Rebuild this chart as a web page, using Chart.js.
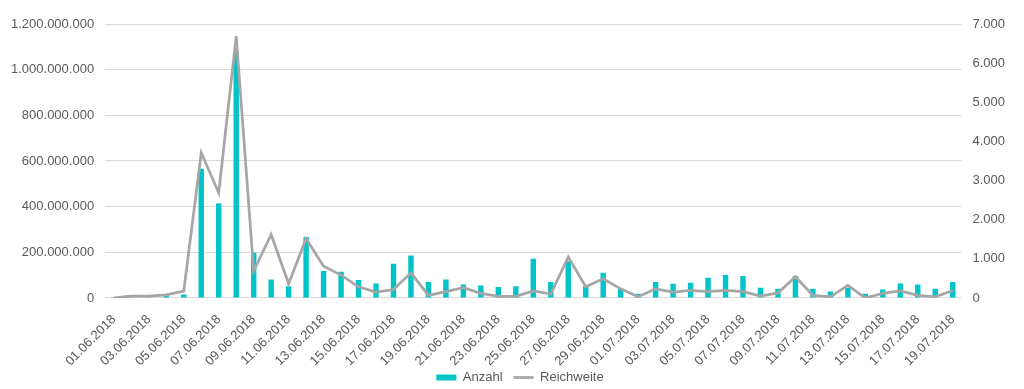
<!DOCTYPE html>
<html>
<head>
<meta charset="utf-8">
<script src="https://cdn.jsdelivr.net/npm/chart.js@4/dist/chart.umd.min.js"></script>
<style>
  html, body { margin: 0; padding: 0; background: #fff; }
  #wrap { width: 1024px; height: 389px; }
</style>
</head>
<body>
<div id="wrap"><canvas id="chart"></canvas></div>
<script>
    var labels = [
        "01.06.2018", "02.06.2018", "03.06.2018", "04.06.2018", "05.06.2018", "06.06.2018", "07.06.2018",
        "08.06.2018", "09.06.2018", "10.06.2018", "11.06.2018", "12.06.2018", "13.06.2018", "14.06.2018",
        "15.06.2018", "16.06.2018", "17.06.2018", "18.06.2018", "19.06.2018", "20.06.2018", "21.06.2018",
        "22.06.2018", "23.06.2018", "24.06.2018", "25.06.2018", "26.06.2018", "27.06.2018", "28.06.2018",
        "29.06.2018", "30.06.2018", "01.07.2018", "02.07.2018", "03.07.2018", "04.07.2018", "05.07.2018",
        "06.07.2018", "07.07.2018", "08.07.2018", "09.07.2018", "10.07.2018", "11.07.2018", "12.07.2018",
        "13.07.2018", "14.07.2018", "15.07.2018", "16.07.2018", "17.07.2018", "18.07.2018", "19.07.2018"
    ];

    // Anzahl (right axis)
    var anzahl = [
        20, 5, 8, 64, 90, 3300, 2415,
        6280, 1160, 473, 302, 1560, 690, 669,
        456, 371, 873, 1086, 405, 473, 345,
        320, 277, 302, 1001, 405, 941, 302,
        643, 234, 107, 405, 362, 388, 515,
        584, 558, 260, 234, 558, 234, 166,
        260, 107, 217, 371, 345, 234, 405
    ];

    // Reichweite (left axis)
    var reichweite = [
        0, 8000000, 8000000, 14000000, 30000000, 636000000, 461000000,
        1147000000, 118000000, 278000000, 62000000, 260000000, 139000000, 100000000,
        49000000, 26000000, 37000000, 110000000, 11000000, 28000000, 45000000,
        20000000, 7000000, 7000000, 31000000, 17000000, 180000000, 49000000,
        84000000, 40000000, 5000000, 40000000, 26000000, 33000000, 28000000,
        33000000, 28000000, 8000000, 22000000, 93000000, 11000000, 5000000,
        55000000, 0, 20000000, 31000000, 11000000, 5000000, 33000000
    ];

    var textColor = "#595959";
    var font = { family: "'Liberation Sans', Arial, sans-serif", size: 13 };

    function dots(v) {
        return String(v).replace(/\B(?=(\d{3})+(?!\d))/g, ".");
    }

    // move the legend to where the original has it (centre ~520, 377)
    var legendPos = {
        id: "legendPos",
        afterLayout: function(chart) {
            var lg = chart.legend;
            if (!lg) return;
            var dx = 520 - (lg.left + lg.right) / 2;
            var dy = 377 - (lg.top + lg.bottom) / 2;
            lg.left += dx; lg.right += dx;
            lg.top += dy; lg.bottom += dy;
        }
    };

    new Chart("chart", {
        type: "bar",
        data: {
            labels: labels,
            datasets: [{
                label: "Anzahl",
                data: anzahl,
                yAxisID: "y1",
                backgroundColor: "#00C4C7",
                barPercentage: 0.31,
                categoryPercentage: 1,
                order: 1
            }, {
                type: "line",
                label: "Reichweite",
                data: reichweite,
                yAxisID: "y",
                borderColor: "#A6A6A6",
                backgroundColor: "#A6A6A6",
                borderWidth: 2.75,
                pointRadius: 0,
                tension: 0,
                order: 0
            }]
        },
        plugins: [legendPos],
        options: {
            responsive: true,
            maintainAspectRatio: false,
            animation: false,
            layout: { padding: { top: 24, left: 0, right: 8, bottom: -20 } },
            plugins: {
                tooltip: { enabled: false },
                legend: {
                    position: "bottom",
                    labels: {
                        color: textColor,
                        font: font,
                        usePointStyle: true,
                        pointStyleWidth: 20,
                        boxHeight: 6,
                        padding: 11,
                        generateLabels: function(chart) {
                            var items = Chart.defaults.plugins.legend.labels.generateLabels(chart);
                            items.sort(function(a, b) { return a.datasetIndex - b.datasetIndex; });
                            items.forEach(function(it) {
                                if (it.datasetIndex === 0) {
                                    it.pointStyle = "rect";
                                    it.lineWidth = 0;
                                } else {
                                    it.pointStyle = "line";
                                    it.lineWidth = 2.75;
                                }
                            });
                            return items;
                        }
                    }
                }
            },
            scales: {
                x: {
                    offset: true,
                    grid: { display: false },
                    border: { display: false },
                    ticks: {
                        color: textColor,
                        font: font,
                        autoSkip: false,
                        maxRotation: 45,
                        minRotation: 45,
                        padding: 6,
                        callback: function(v, i) {
                            return i % 2 === 0 ? labels[i] : "";
                        }
                    }
                },
                y: {
                    position: "left",
                    min: 0,
                    max: 1200000000,
                    grid: { color: "#D9D9D9", lineWidth: 1, drawTicks: false },
                    border: { display: false },
                    ticks: {
                        stepSize: 200000000,
                        color: textColor,
                        font: font,
                        padding: 11,
                        callback: function(v) { return dots(v); }
                    }
                },
                y1: {
                    position: "right",
                    min: 0,
                    max: 7000,
                    grid: { drawOnChartArea: false, drawTicks: false },
                    border: { display: false },
                    ticks: {
                        stepSize: 1000,
                        color: textColor,
                        font: font,
                        padding: 11,
                        callback: function(v) { return dots(v); }
                    }
                }
            }
        }
    });
</script>
</body>
</html>
